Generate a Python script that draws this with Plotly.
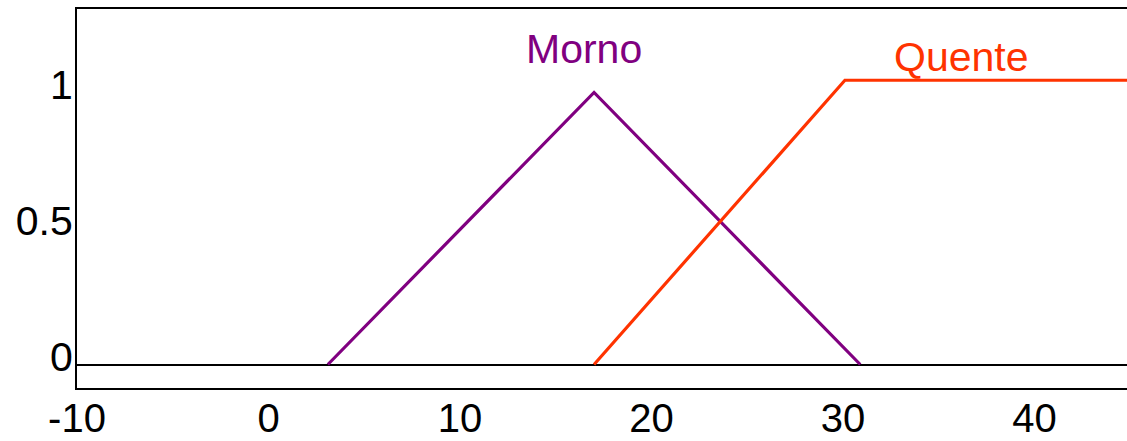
import plotly.graph_objects as go

# Funções de pertinência da temperatura (°C)
temp_morno = [3.1, 17.0, 30.9]
pert_morno = [0.0, 1.0, 0.0]

temp_quente = [17.0, 30.1, 46.0]
pert_quente = [0.0, 1.045, 1.045]

x_ticks = [-10, 0, 10, 20, 30, 40]
x_labels = ["-10", "0", "10", "20", "30", "40"]
y_ticks = [0, 0.5, 1]
y_labels = ["0", "0.5", "1"]

ROXO = "#800080"
LARANJA = "#FF3300"
FONTE = "Liberation Sans, Arial, sans-serif"

fig = go.Figure()
fig.add_trace(go.Scatter(x=temp_morno, y=pert_morno, mode="lines",
                         line=dict(color=ROXO, width=3.2), name="Morno"))
fig.add_trace(go.Scatter(x=temp_quente, y=pert_quente, mode="lines",
                         line=dict(color=LARANJA, width=3.2), name="Quente"))

fig.add_annotation(x=16.5, y=1.16, xref="x", yref="y", text="Morno",
                   showarrow=False, font=dict(family=FONTE, size=41, color=ROXO),
                   xanchor="center", yanchor="middle")
fig.add_annotation(x=36.2, y=1.13, xref="x", yref="y", text="Quente",
                   showarrow=False, font=dict(family=FONTE, size=41, color=LARANJA),
                   xanchor="center", yanchor="middle")

fig.update_layout(
    width=1127, height=441,
    margin=dict(l=77, r=0, t=9, b=53, autoexpand=False),
    plot_bgcolor="white", paper_bgcolor="white",
    showlegend=False,
    font=dict(family=FONTE, size=41, color="black"),
    xaxis=dict(range=[-10, 44.83], tickvals=x_ticks, ticktext=x_labels,
               showgrid=False, zeroline=False, ticks="", automargin=False,
               showline=True, mirror=True, linecolor="black", linewidth=2,
               ticklabelstandoff=-6, tickfont=dict(size=40)),
    yaxis=dict(range=[-0.0864, 1.307], tickvals=y_ticks, ticktext=y_labels,
               showgrid=False, ticks="", automargin=False,
               zeroline=True, zerolinecolor="black", zerolinewidth=2,
               showline=True, mirror=False, linecolor="black", linewidth=2,
               ticklabelshift=-8, ticklabelstandoff=-6),
)

fig.write_html("out.html")
